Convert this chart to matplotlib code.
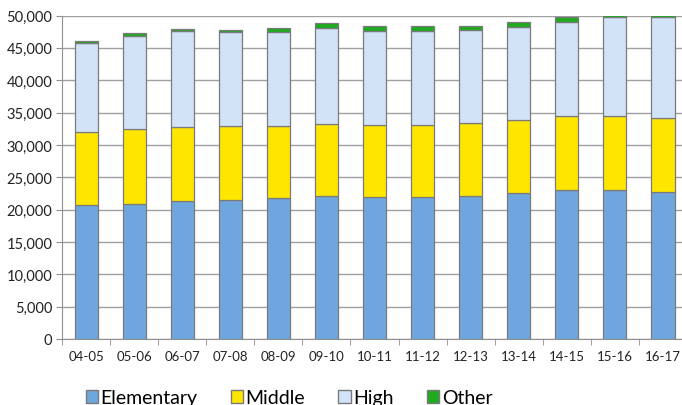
import matplotlib
matplotlib.use("Agg")
import matplotlib.pyplot as plt
import numpy as np
from matplotlib.patches import Patch

years = ["04-05", "05-06", "06-07", "07-08", "08-09", "09-10", "10-11",
         "11-12", "12-13", "13-14", "14-15", "15-16", "16-17"]
elementary = [20700, 20900, 21400, 21500, 21800, 22100, 22000, 22000, 22100, 22600, 23100, 23100, 22700]
middle = [11300, 11500, 11400, 11400, 11100, 11200, 11000, 11000, 11300, 11300, 11400, 11400, 11500]
high = [13800, 14500, 14800, 14500, 14600, 14700, 14600, 14600, 14300, 14300, 14500, 15300, 15500]
other = [300, 400, 300, 300, 600, 900, 800, 800, 600, 800, 800, 600, 500]

series = [("Elementary", elementary, "#6ea7dd"),
          ("Middle", middle, "#ffe600"),
          ("High", high, "#d2e3f8"),
          ("Other", other, "#1faa1f")]

plt.rcParams["font.family"] = ["Lato", "DejaVu Sans"]

fig = plt.figure(figsize=(6.82, 4.06), dpi=100)
ax = fig.add_axes([62 / 682, 1 - 340 / 406, 625 / 682, 323.5 / 406])

x = np.arange(len(years))
bottom = np.zeros(len(years))
for name, vals, col in series:
    ax.bar(x, vals, 0.48, bottom=bottom, color=col, edgecolor="#7a7a7a",
           linewidth=0.9, zorder=3)
    bottom += np.array(vals)

ax.set_xlim(-0.5, len(years) - 0.5)
ax.set_ylim(0, 50000)
ax.set_yticks(range(0, 50001, 5000))
ax.set_yticklabels([f"{v:,}" for v in range(0, 50001, 5000)], fontsize=10.5, color="#222222")
ax.set_xticks(x)
ax.set_xticklabels(years, fontsize=9.5, color="#222222")
ax.set_xticks(np.arange(-0.5, len(years)), minor=True)
ax.tick_params(axis="x", which="major", length=0, pad=8)
ax.tick_params(axis="x", which="minor", length=4, color="#909090")
ax.tick_params(axis="y", length=4, color="#909090", pad=3)

ax.grid(axis="y", color="#a0a0a0", linewidth=1.0, zorder=0)
for s in ["top", "right"]:
    ax.spines[s].set_visible(False)
for s in ["left", "bottom"]:
    ax.spines[s].set_color("#909090")

handles = [Patch(facecolor=col, edgecolor="#7a7a7a", label=name) for name, _, col in series]
fig.legend(handles=handles, loc="center", bbox_to_anchor=(289 / 682, 1 - 399 / 406),
           ncol=4, frameon=False, fontsize=14, handlelength=0.65, handleheight=0.65,
           handletextpad=0.12, columnspacing=1.7)

fig.savefig("out.png", dpi=100)
